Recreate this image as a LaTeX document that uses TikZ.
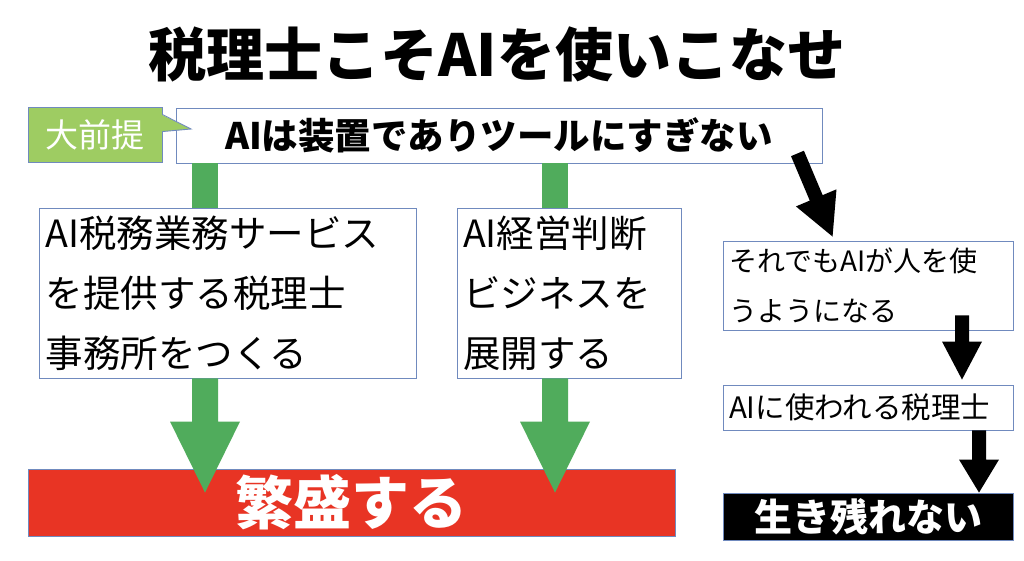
\documentclass[tikz,border=0pt]{standalone}
\usepackage{fontspec}
\setmainfont{Noto Sans CJK JP}
\usetikzlibrary{calc}
\definecolor{bordc}{RGB}{112,138,190}
\definecolor{garrow}{RGB}{80,172,92}
\definecolor{redbox}{RGB}{232,52,36}
\definecolor{callg}{RGB}{158,204,98}
\newcommand\fs[2]{\fontsize{#1}{#2}\selectfont}
% block arrow: #1 start, #2 tip, #3 shaft half width, #4 head half width, #5 head length, #6 colour
\newcommand\blockarrow[6]{%
  \coordinate (ba-h) at ($(#2)!#5!(#1)$);
  \fill[#6] ($(#1)!#3!90:(#2)$) -- ($(ba-h)!#3!-90:(#1)$) -- ($(ba-h)!#4!-90:(#1)$) -- (#2)
     -- ($(ba-h)!#4!90:(#1)$) -- ($(ba-h)!#3!90:(#1)$) -- ($(#1)!#3!-90:(#2)$) -- cycle;}
\begin{document}
\begin{tikzpicture}[x=1pt,y=-1pt,
  box/.style={draw=bordc, line width=0.9pt, fill=white, inner sep=0pt},
  leftbox/.style={box, align=left, inner xsep=6pt},
  bigtext/.style={font=\fs{37.5}{60}},
  smalltext/.style={font=\fs{28}{50}}]
\useasboundingbox[fill=white] (0,0) rectangle (1024,560);

\node[font=\bfseries\fs{58}{60}] (title) at (497,54) {税理士こそAIを使いこなせ};

\node[box, fill=redbox, minimum width=647, minimum height=67, text=white,
      font=\bfseries\fs{58}{60}] (R) at (351.5,502.5) {繁盛する};

\node[box, minimum width=646, minimum height=55, font=\bfseries\fs{36.5}{40}] (top) at (499,135.5)
  {AIは装置でありツールにすぎない};

\node[leftbox, bigtext, minimum width=377, minimum height=170, text width=365] (A) at (228,293)
  {AI税務業務サービス\\を提供する税理士\\事務所をつくる};
\node[leftbox, bigtext, minimum width=224, minimum height=170, text width=212] (M) at (569,293)
  {AI経営判断\\ビジネスを\\展開する};

\node[leftbox, smalltext, minimum width=290, minimum height=89, text width=278] (B1) at (868,285.5)
  {それでもAIが人を使\\うようになる};
\node[leftbox, font=\fs{29.5}{34}, minimum width=290, minimum height=45, text width=278] (B2) at (868,407.5)
  {AIに使われる税理士};
\node[box, fill=black, text=white, minimum width=290, minimum height=47,
      font=\bfseries\fs{38}{42}] (K) at (868,516.5) {生き残れない};

% green connectors
\coordinate (gl) at (205,0);
\coordinate (gm) at (555,0);
\fill[garrow] ($(top.south -| gl)+(-13,0)$) rectangle ($(A.north -| gl)+(13,0)$);
\fill[garrow] ($(top.south -| gm)+(-13,0)$) rectangle ($(M.north -| gm)+(13,0)$);
\coordinate (g1s) at (A.south -| gl);
\coordinate (g1e) at ($(R.north -| gl)+(0,24)$);
\blockarrow{g1s}{g1e}{13pt}{35pt}{71pt}{garrow}
\coordinate (g2s) at (M.south -| gm);
\coordinate (g2e) at ($(R.north -| gm)+(0,24)$);
\blockarrow{g2s}{g2e}{13pt}{35pt}{71pt}{garrow}

% black connectors
\coordinate (d1s) at ($(top.south east)+(-25,-10)$);
\coordinate (d1e) at ($(B1.north west)+(110,-4)$);
\blockarrow{d1s}{d1e}{7pt}{22pt}{42pt}{black}
\coordinate (bx1) at (962,0);
\coordinate (b1s) at ($(B1.south -| bx1)+(0,-15)$);
\coordinate (b1e) at ($(B2.north -| bx1)+(0,-5)$);
\blockarrow{b1s}{b1e}{7pt}{20pt}{38pt}{black}
\coordinate (bx2) at (979,0);
\coordinate (b2s) at (B2.south -| bx2);
\coordinate (b2e) at (K.north -| bx2);
\blockarrow{b2s}{b2e}{7pt}{20pt}{33pt}{black}

% callout
\node[box, fill=callg, text=white, minimum width=134, minimum height=55, font=\fs{33}{36}] (cal) at (95,134.5) {大前提};
\coordinate (caltip) at (191,129);
\fill[callg] ($(cal.north east)+(-1,8)$) -- (caltip) -- ($(cal.north east)+(-1,25)$) -- cycle;
\draw[bordc, line width=0.9pt] ($(cal.north east)+(0,8)$) -- (caltip) -- ($(cal.north east)+(0,25)$);
\end{tikzpicture}
\end{document}
